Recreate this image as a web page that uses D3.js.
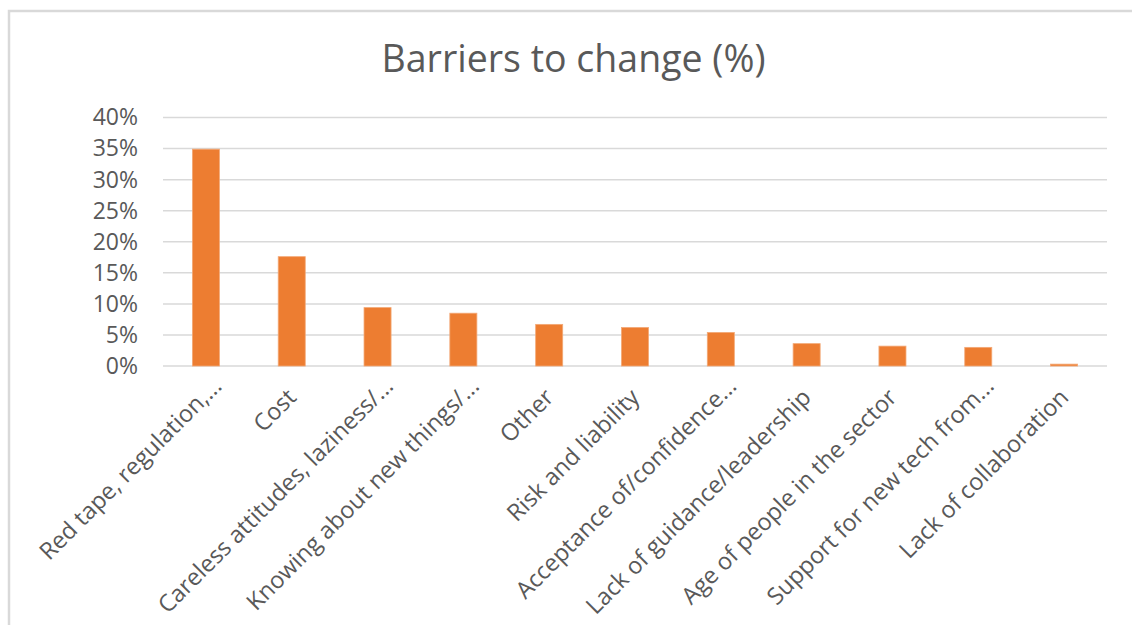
<!DOCTYPE html>
<html>
<head>
<meta charset="utf-8">
<script src="https://cdn.jsdelivr.net/npm/d3@7"></script>
<style>
  html, body { margin: 0; padding: 0; background: #fff; }
  svg { display: block; }
  text { font-family: "Open Sans", sans-serif; }
</style>
</head>
<body>
<svg id="chart" width="1132" height="625"></svg>
<script>
const categories = [
  "Red tape, regulation,...",
  "Cost",
  "Careless attitudes, laziness/...",
  "Knowing about new things/...",
  "Other",
  "Risk and liability",
  "Acceptance of/confidence...",
  "Lack of guidance/leadership",
  "Age of people in the sector",
  "Support for new tech from...",
  "Lack of collaboration"
];
const values = [0.349, 0.176, 0.094, 0.085, 0.067, 0.062, 0.054, 0.036, 0.032, 0.030, 0.003];
const yTicks = [0, 0.05, 0.10, 0.15, 0.20, 0.25, 0.30, 0.35, 0.40];
const title = "Barriers to change (%)";

(function () {
const svg = d3.select("#chart");
const W = 1132, H = 625;
const plotLeft = 163, plotRight = 1107, plotTop = 117.5, plotBottom = 366;

// chart border
svg.append("rect")
  .attr("x", 9).attr("y", 11)
  .attr("width", W + 20).attr("height", H + 20)
  .attr("fill", "#fff")
  .attr("stroke", "#d9d9d9").attr("stroke-width", 2.5);

const x = d3.scaleBand()
  .domain(categories)
  .range([plotLeft, plotRight])
  .paddingInner(0.685)
  .paddingOuter(0.3425);

const y = d3.scaleLinear().domain([0, 0.4]).range([plotBottom, plotTop]);

// gridlines
svg.append("g")
  .selectAll("line")
  .data(yTicks)
  .join("line")
  .attr("x1", plotLeft).attr("x2", plotRight)
  .attr("y1", d => y(d)).attr("y2", d => y(d))
  .attr("stroke", "#d9d9d9").attr("stroke-width", 1.5);

// y axis labels
const yAxis = d3.axisLeft(y)
  .tickValues(yTicks)
  .tickFormat(d3.format(".0%"))
  .tickSize(0)
  .tickPadding(0);
const gy = svg.append("g")
  .attr("transform", `translate(138,0)`)
  .call(yAxis);
gy.select(".domain").remove();
gy.selectAll("text")
  .style("font-family", "'Open Sans', sans-serif")
  .style("font-size", "23px")
  .attr("fill", "#595959");

// bars
svg.append("g")
  .selectAll("rect")
  .data(values)
  .join("rect")
  .attr("x", (d, i) => x(categories[i]))
  .attr("y", d => y(d))
  .attr("width", x.bandwidth())
  .attr("height", d => y(0) - y(d))
  .attr("fill", "#ed7d31")
  .attr("stroke", "#f3a876")
  .attr("stroke-width", 0.8);

// x axis labels
const xAxis = d3.axisBottom(x).tickSize(0).tickPadding(0);
const gx = svg.append("g")
  .attr("transform", `translate(0,393)`)
  .call(xAxis);
gx.select(".domain").remove();
gx.selectAll("text")
  .style("font-family", "'Open Sans', sans-serif")
  .style("font-size", "23.5px")
  .attr("fill", "#595959")
  .attr("text-anchor", "end")
  .attr("dy", "0.35em")
  .attr("dx", d => d.endsWith("...") ? 16 : 0)
  .attr("transform", "rotate(-45)");

// title
svg.append("text")
  .attr("x", (380 + 767) / 2)
  .attr("y", 72)
  .attr("text-anchor", "middle")
  .style("font-family", "'Open Sans', sans-serif")
  .style("font-size", "37.5px")
  .attr("fill", "#595959")
  .text(title);
})();
</script>
</body>
</html>
